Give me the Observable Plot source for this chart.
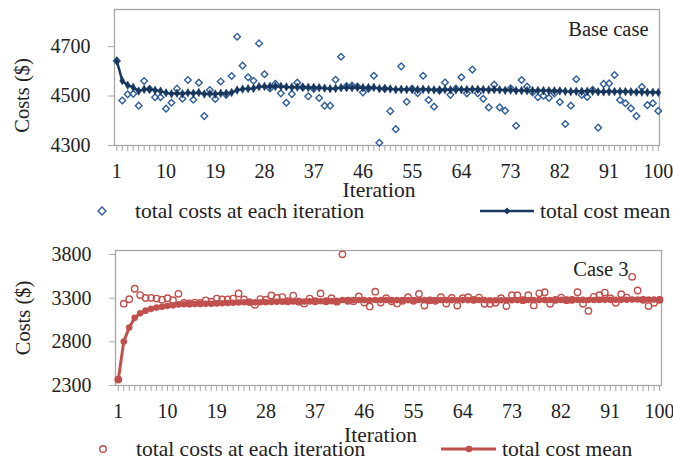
<!DOCTYPE html>
<html>
<head>
<meta charset="utf-8">
<script src="https://cdn.jsdelivr.net/npm/d3@7"></script>
<script src="https://cdn.jsdelivr.net/npm/@observablehq/plot@0.6"></script>
<style>
  html, body { margin: 0; padding: 0; background: #fff; }
  #chart { position: relative; width: 673px; height: 462px; font-family: "Liberation Serif", "Times New Roman", Times, serif; color: #222; background: #fff; overflow: hidden; }
  .abs { position: absolute; }
  .lg { position: absolute; font-family: "Liberation Serif", "Times New Roman", Times, serif; font-size: 21.5px; line-height: 24px; white-space: nowrap; color: #222; }
  svg text { font-family: "Liberation Serif", "Times New Roman", Times, serif !important; }
</style>
</head>
<body>
<div id="chart">
  <div id="top" class="abs" style="left:0;top:0"></div>
  <div id="bottom" class="abs" style="left:0;top:232px"></div>
  <div id="legend1"></div>
  <div id="legend2"></div>
</div>
<script>
const iterations = [1,2,3,4,5,6,7,8,9,10,11,12,13,14,15,16,17,18,19,20,21,22,23,24,25,26,27,28,29,30,31,32,33,34,35,36,37,38,39,40,41,42,43,44,45,46,47,48,49,50,51,52,53,54,55,56,57,58,59,60,61,62,63,64,65,66,67,68,69,70,71,72,73,74,75,76,77,78,79,80,81,82,83,84,85,86,87,88,89,90,91,92,93,94,95,96,97,98,99,100];
const xTickLabels = [1,10,19,28,37,46,55,64,73,82,91,100];
const baseYTicks = [4300,4500,4700];
const case3YTicks = [2300,2800,3300,3800];

const baseCosts = [
  4642,4482,4507,4509,4461,4561,4528,4495,4495,4449,
  4473,4530,4489,4565,4485,4554,4419,4524,4488,4559,
  4505,4581,4740,4623,4576,4562,4713,4588,4531,4549,
  4511,4473,4508,4554,4535,4499,4529,4492,4461,4461,
  4566,4659,4540,4542,4538,4515,4530,4582,4311,4530,
  4439,4366,4620,4477,4530,4512,4582,4484,4457,4522,
  4555,4505,4530,4576,4511,4607,4511,4489,4454,4546,
  4454,4441,4531,4380,4565,4538,4515,4495,4501,4492,
  4511,4476,4387,4461,4568,4505,4496,4525,4372,4549,
  4551,4585,4484,4471,4450,4419,4537,4463,4471,4440
];
const baseMean = [
  4642,4562,4544,4535,4520,4527,4527,4523,4520,4513,
  4509,4511,4509,4513,4511,4514,4508,4509,4508,4511,
  4511,4514,4524,4528,4530,4531,4538,4539,4539,4539,
  4539,4537,4536,4536,4536,4535,4535,4534,4532,4530,
  4531,4534,4534,4534,4535,4534,4534,4535,4530,4530,
  4529,4526,4527,4526,4526,4526,4527,4526,4525,4525,
  4526,4525,4525,4526,4526,4527,4527,4526,4525,4526,
  4525,4523,4524,4522,4522,4522,4522,4522,4522,4521,
  4521,4521,4519,4518,4519,4519,4519,4519,4517,4517,
  4518,4518,4518,4518,4517,4516,4516,4515,4515,4514
];
const case3Costs = [
  2368,3237,3288,3408,3336,3302,3304,3295,3283,3300,
  3276,3350,3245,3240,3250,3245,3275,3260,3295,3285,
  3285,3295,3355,3285,3255,3225,3290,3283,3332,3302,
  3313,3265,3330,3260,3240,3295,3265,3355,3265,3300,
  3260,3802,3270,3265,3320,3250,3205,3374,3250,3300,
  3265,3240,3270,3312,3270,3348,3215,3275,3270,3312,
  3238,3302,3215,3300,3312,3281,3307,3236,3236,3247,
  3300,3209,3334,3334,3277,3334,3217,3356,3368,3236,
  3281,3307,3277,3281,3368,3236,3154,3315,3334,3364,
  3300,3247,3345,3307,3544,3388,3281,3209,3247,3281
];
const case3Mean = [
  2368,2803,2964,3075,3127,3157,3178,3192,3202,3212,
  3218,3229,3230,3231,3232,3233,3235,3237,3240,3242,
  3244,3247,3251,3253,3253,3252,3253,3254,3257,3258,
  3260,3260,3262,3262,3262,3263,3263,3265,3265,3266,
  3266,3279,3278,3278,3279,3278,3277,3279,3278,3279,
  3278,3278,3278,3278,3278,3279,3278,3278,3278,3279,
  3278,3278,3277,3278,3278,3278,3279,3278,3277,3277,
  3277,3276,3277,3278,3278,3279,3278,3279,3280,3279,
  3279,3280,3280,3280,3281,3280,3279,3279,3280,3281,
  3281,3281,3281,3282,3284,3285,3285,3285,3284,3284
];

const blueScatter = "#2F5D9B";
const navy = "#17375E";
const red = "#C0504D";
const gridGray = "#A6A6A6";
const serif = "'Liberation Serif', 'Times New Roman', Times, serif";

function panel({costs, mean, yDomain, yTicks, height, marginTop, marginBottom, marginLeft, marginRight, xRange, label, labelDx, labelDy, labelAxisDy, iterDy, scatterMarks, meanMarks}) {
  const data = iterations.map((it, i) => ({it, cost: costs[i], mean: mean[i]}));
  return Plot.plot({
    width: 673, height, marginTop, marginBottom, marginLeft, marginRight,
    style: {fontFamily: serif, fontSize: "20px", color: "#222", background: "transparent", overflow: "visible"},
    x: {domain: [1, 100], range: xRange},
    y: {domain: yDomain},
    marks: [
      Plot.axisX({ticks: iterations, tickSize: 6, stroke: gridGray, strokeWidth: 1, tickPadding: 12, fontSize: 20,
        tickFormat: d => xTickLabels.includes(d) ? String(d) : "", label: null}),
      Plot.axisY({ticks: yTicks, tickSize: 6, stroke: gridGray, tickPadding: 18, fontSize: 20, tickFormat: d => String(d), label: null}),
      Plot.frame({stroke: gridGray, strokeWidth: 1.3}),
      ...scatterMarks(data),
      ...meanMarks(data),
      Plot.text([label], {frameAnchor: "top-right", dx: labelDx, dy: labelDy, fontSize: 20.5, lineAnchor: "middle"}),
      Plot.text(["Iteration"], {frameAnchor: "bottom", lineAnchor: "middle", textAnchor: "middle", dy: iterDy, dx: -8, fontSize: 21.5}),
      Plot.text(["Costs ($)"], {frameAnchor: "left", textAnchor: "middle", lineAnchor: "middle", rotate: -90, dx: -92, dy: labelAxisDy, fontSize: 20.5})
    ]
  });
}

const topChart = panel({
  costs: baseCosts, mean: baseMean, yDomain: [4300, 4850], yTicks: baseYTicks,
  height: 200, marginTop: 9, marginBottom: 55, marginLeft: 114, marginRight: 14,
  xRange: [116.3, 657.8], label: "Base case", labelDx: -11, labelDy: 20, labelAxisDy: 18, iterDy: 45,
  scatterMarks: data => [Plot.dot(data, {x: "it", y: "cost", symbol: "diamond2", r: 3, stroke: blueScatter, strokeWidth: 1.4, fill: "none"})],
  meanMarks: data => [
    Plot.line(data, {x: "it", y: "mean", stroke: navy, strokeWidth: 2.5}),
    Plot.dot(data, {x: "it", y: "mean", symbol: "diamond", r: 2.6, fill: navy, stroke: navy, strokeWidth: 0.5})
  ]
});
document.getElementById("top").appendChild(topChart);

const bottomChart = panel({
  costs: case3Costs, mean: case3Mean, yDomain: [2300, 3846], yTicks: case3YTicks,
  height: 215, marginTop: 18, marginBottom: 62, marginLeft: 115, marginRight: 12,
  xRange: [117.8, 659], label: "Case 3", labelDx: -33, labelDy: 19, labelAxisDy: 0, iterDy: 50,
  scatterMarks: data => [Plot.dot(data, {x: "it", y: "cost", symbol: "circle", r: 3.2, stroke: red, strokeWidth: 1.4, fill: "none"})],
  meanMarks: data => [
    Plot.line(data, {x: "it", y: "mean", stroke: red, strokeWidth: 3}),
    Plot.dot(data, {x: "it", y: "mean", symbol: "circle", r: 3.3, fill: red})
  ]
});
document.getElementById("bottom").appendChild(bottomChart);

function legend(el, cy, items) {
  const root = document.getElementById(el);
  items.forEach(item => {
    if (item.kind === "marker" || item.kind === "line") {
      const w = item.kind === "line" ? item.w : 16;
      const left = item.kind === "line" ? item.x : item.cx - 8;
      const s = document.createElementNS("http://www.w3.org/2000/svg", "svg");
      s.setAttribute("width", w); s.setAttribute("height", 16);
      s.setAttribute("class", "abs");
      s.style.left = left + "px"; s.style.top = (cy - 8) + "px";
      s.innerHTML = item.svg;
      root.appendChild(s);
    } else {
      const d = document.createElement("div");
      d.className = "lg";
      d.style.left = item.x + "px"; d.style.top = (cy - 12) + "px";
      d.textContent = item.text;
      root.appendChild(d);
    }
  });
}

legend("legend1", 211, [
  {kind: "marker", cx: 102, svg: `<path d="M8,4 L12,8 L8,12 L4,8 Z" fill="none" stroke="${blueScatter}" stroke-width="1.4"/>`},
  {kind: "text", x: 135, text: "total costs at each iteration"},
  {kind: "line", x: 480, w: 54, svg: `<line x1="0" y1="8" x2="54" y2="8" stroke="${navy}" stroke-width="2.5"/><path d="M27,4.5 L30.5,8 L27,11.5 L23.5,8 Z" fill="${navy}"/>`},
  {kind: "text", x: 540, text: "total cost mean"}
]);

legend("legend2", 449, [
  {kind: "marker", cx: 103, svg: `<circle cx="8" cy="8" r="3.3" fill="none" stroke="${red}" stroke-width="1.4"/>`},
  {kind: "text", x: 136, text: "total costs at each iteration"},
  {kind: "line", x: 441, w: 55, svg: `<line x1="0" y1="8" x2="55" y2="8" stroke="${red}" stroke-width="3"/><circle cx="28" cy="8" r="3.3" fill="${red}"/>`},
  {kind: "text", x: 502, text: "total cost mean"}
]);
</script>
</body>
</html>
